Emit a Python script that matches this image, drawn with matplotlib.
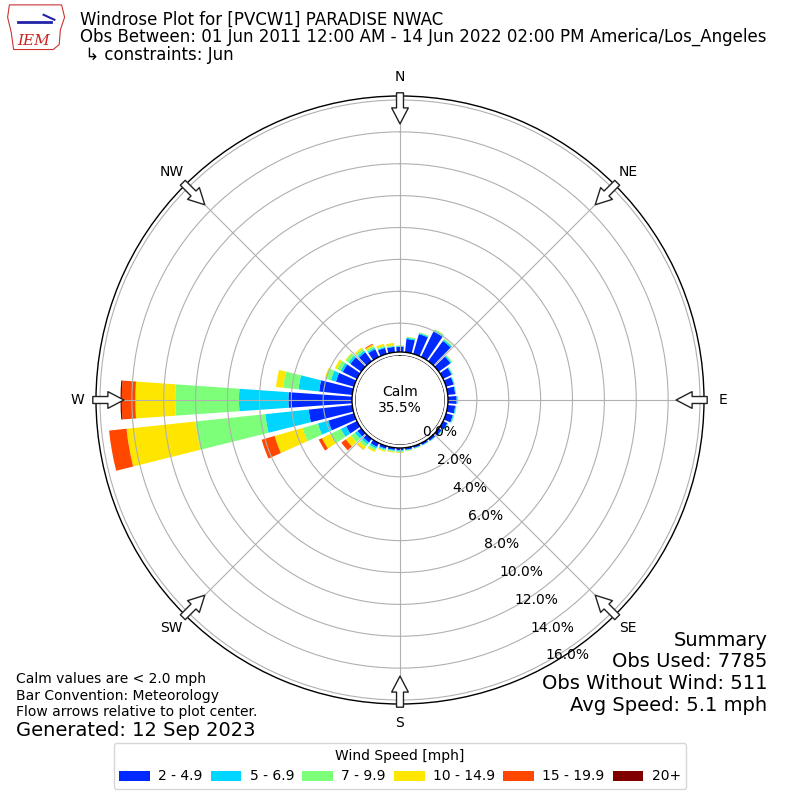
import numpy as np
import matplotlib
matplotlib.use("Agg")
from matplotlib import pyplot as plt
from matplotlib.patches import Circle, FancyArrowPatch, Polygon, ArrowStyle

# direction bins (deg) and percent of obs per speed bin
directions = np.arange(0, 360, 10)
speed_labels = ["2 - 4.9", "5 - 6.9", "7 - 9.9", "10 - 14.9", "15 - 19.9", "20+"]

b2_5 = [0.51, 1.03, 1.48, 1.96, 1.76, 1.10, 0.78, 0.68, 0.66, 0.73, 0.66, 0.63,
        0.48, 0.40, 0.35, 0.32, 0.31, 0.32, 0.33, 0.33, 0.36, 0.46, 0.48, 0.48,
        0.94, 1.86, 2.94, 4.18, 2.28, 1.36, 1.18, 1.03, 0.88, 0.73, 0.58, 0.53]
b5_7 = [0.05, 0.08, 0.07, 0.10, 0.10, 0.08, 0.06, 0.05, 0.05, 0.07, 0.06, 0.06,
        0.05, 0.04, 0.03, 0.03, 0.03, 0.04, 0.06, 0.06, 0.07, 0.12, 0.15, 0.20,
        0.37, 0.68, 2.74, 3.10, 1.30, 0.33, 0.15, 0.15, 0.13, 0.10, 0.06, 0.05]
b7_10 = [0.04, 0.05, 0.04, 0.05, 0.05, 0.05, 0.04, 0.02, 0.02, 0.03, 0.03, 0.04,
         0.03, 0.03, 0.02, 0.02, 0.03, 0.04, 0.06, 0.06, 0.07, 0.13, 0.20, 0.30,
         0.74, 1.00, 4.40, 4.00, 0.97, 0.30, 0.25, 0.20, 0.15, 0.12, 0.08, 0.05]
b10_15 = [0.02, 0.02, 0.01, 0.02, 0.02, 0.02, 0.0, 0.0, 0.0, 0.0, 0.0, 0.0,
          0.0, 0.0, 0.0, 0.0, 0.01, 0.02, 0.05, 0.05, 0.06, 0.10, 0.20, 0.40,
          0.58, 1.82, 4.35, 2.50, 0.45, 0.10, 0.15, 0.05, 0.10, 0.10, 0.13, 0.15]
b15_20 = [0.0, 0.0, 0.0, 0.0, 0.0, 0.0, 0.0, 0.0, 0.0, 0.0, 0.0, 0.0,
          0.0, 0.0, 0.0, 0.0, 0.0, 0.0, 0.0, 0.0, 0.0, 0.0, 0.02, 0.35,
          0.22, 0.85, 1.10, 0.85, 0.0, 0.0, 0.0, 0.0, 0.0, 0.06, 0.0, 0.0]
b20p = [0.0] * 27 + [0.08] + [0.0] * 8

calm_pct = 35.5
rticks = np.arange(0, 17, 2)
compass = ["N", "NE", "E", "SE", "S", "SW", "W", "NW"]

colors = plt.cm.jet(np.linspace(1 / 6, 1, 6))

fig = plt.figure(figsize=(8, 8), dpi=100)
ax = fig.add_axes([0.12, 0.12, 0.76, 0.76], projection="polar")
ax.set_theta_zero_location("N")
ax.set_theta_direction(-1)
ax.set_rorigin(-2.82)
ax.set_ylim(0, 16.25)

theta = np.radians(directions)
bottom = np.zeros(len(directions))
handles = []
for vals, c, lab in zip([b2_5, b5_7, b7_10, b10_15, b15_20, b20p], colors, speed_labels):
    vals = np.array(vals)
    h = ax.bar(theta, vals, width=np.radians(8), bottom=bottom, color=c,
               label=lab, zorder=1, linewidth=0)
    handles.append(h)
    bottom = bottom + vals

ax.set_axisbelow(False)
ax.set_yticks(rticks)
ax.set_yticklabels([])
ax.set_xticks(np.radians(np.arange(0, 360, 45)))
ax.set_xticklabels(compass, fontsize=10)
ax.tick_params(axis="x", pad=3)
ax.grid(True, color="#b0b0b0", lw=0.8)
ax.spines["polar"].set_linewidth(1)

# radial labels
for r in rticks:
    ax.text(np.radians(151), r, f"{r:.1f}%", ha="left", va="bottom",
            fontsize=10, zorder=6, clip_on=False)

# calm circle
ax.add_patch(Circle((0.5, 0.5), 48 / 608, transform=ax.transAxes,
                    fc="white", ec="black", lw=1, zorder=3))
ax.text(0.5, 0.5, f"Calm\n{calm_pct:.1f}%", transform=ax.transAxes,
        ha="center", va="center", fontsize=10, zorder=4)

# flow arrows
style = ArrowStyle.Simple(head_length=11.5, head_width=12, tail_width=5)
for ang in np.arange(0, 360, 45):
    t = np.radians(ang)
    arr = FancyArrowPatch((t, 16.45), (t, 14.5), transform=ax.transData,
                          arrowstyle=style, mutation_scale=1, shrinkA=0, shrinkB=0,
                          fc="white", ec="#222222", lw=1, clip_on=False, zorder=5)
    ax.add_patch(arr)

# header
fig.text(0.1, 0.975, "Windrose Plot for [PVCW1] PARADISE NWAC", fontsize=12, va="center")
fig.text(0.1, 0.954, "Obs Between: 01 Jun 2011 12:00 AM - 14 Jun 2022 02:00 PM America/Los_Angeles",
         fontsize=12, va="center")
fig.text(0.1, 0.931, " \u21b3 constraints: Jun", fontsize=12, va="center")

# logo (rough)
lax = fig.add_axes([0.008, 0.935, 0.075, 0.062])
lax.set_xlim(0, 1)
lax.set_ylim(0, 1)
lax.axis("off")
lax.add_patch(Polygon([[0.05, 0.95], [0.92, 0.95], [0.97, 0.7], [0.9, 0.45], [0.88, 0.15],
                       [0.78, 0.05], [0.12, 0.05], [0.08, 0.4], [0.02, 0.7]],
                      closed=True, fc="white", ec="#cc3333", lw=0.8))
lax.plot([0.2, 0.75], [0.6, 0.6], color="#2222aa", lw=2)
lax.plot([0.62, 0.8], [0.75, 0.65], color="#2222aa", lw=1.5)
lax.text(0.45, 0.22, "IEM", color="#cc2222", fontsize=11, style="italic",
         family="DejaVu Serif", ha="center", va="center")

# notes
fig.text(0.02, 0.151, "Calm values are < 2.0 mph", fontsize=10, va="center")
fig.text(0.02, 0.130, "Bar Convention: Meteorology", fontsize=10, va="center")
fig.text(0.02, 0.110, "Flow arrows relative to plot center.", fontsize=10, va="center")
fig.text(0.02, 0.087, "Generated: 12 Sep 2023", fontsize=14, va="center")

summary = ["Summary", "Obs Used: 7785", "Obs Without Wind: 511", "Avg Speed: 5.1 mph"]
for i, s in enumerate(summary):
    fig.text(0.959, 0.2 - i * 0.0272, s, fontsize=14, ha="right", va="center")

fig.legend(handles=handles, labels=speed_labels, loc="lower center", ncol=6,
           title="Wind Speed [mph]", fontsize=10, title_fontsize=10,
           bbox_to_anchor=(0.5, 0.005), handlelength=2.2, columnspacing=0.6,
           handletextpad=0.6)

fig.savefig("out.png", dpi=100)
